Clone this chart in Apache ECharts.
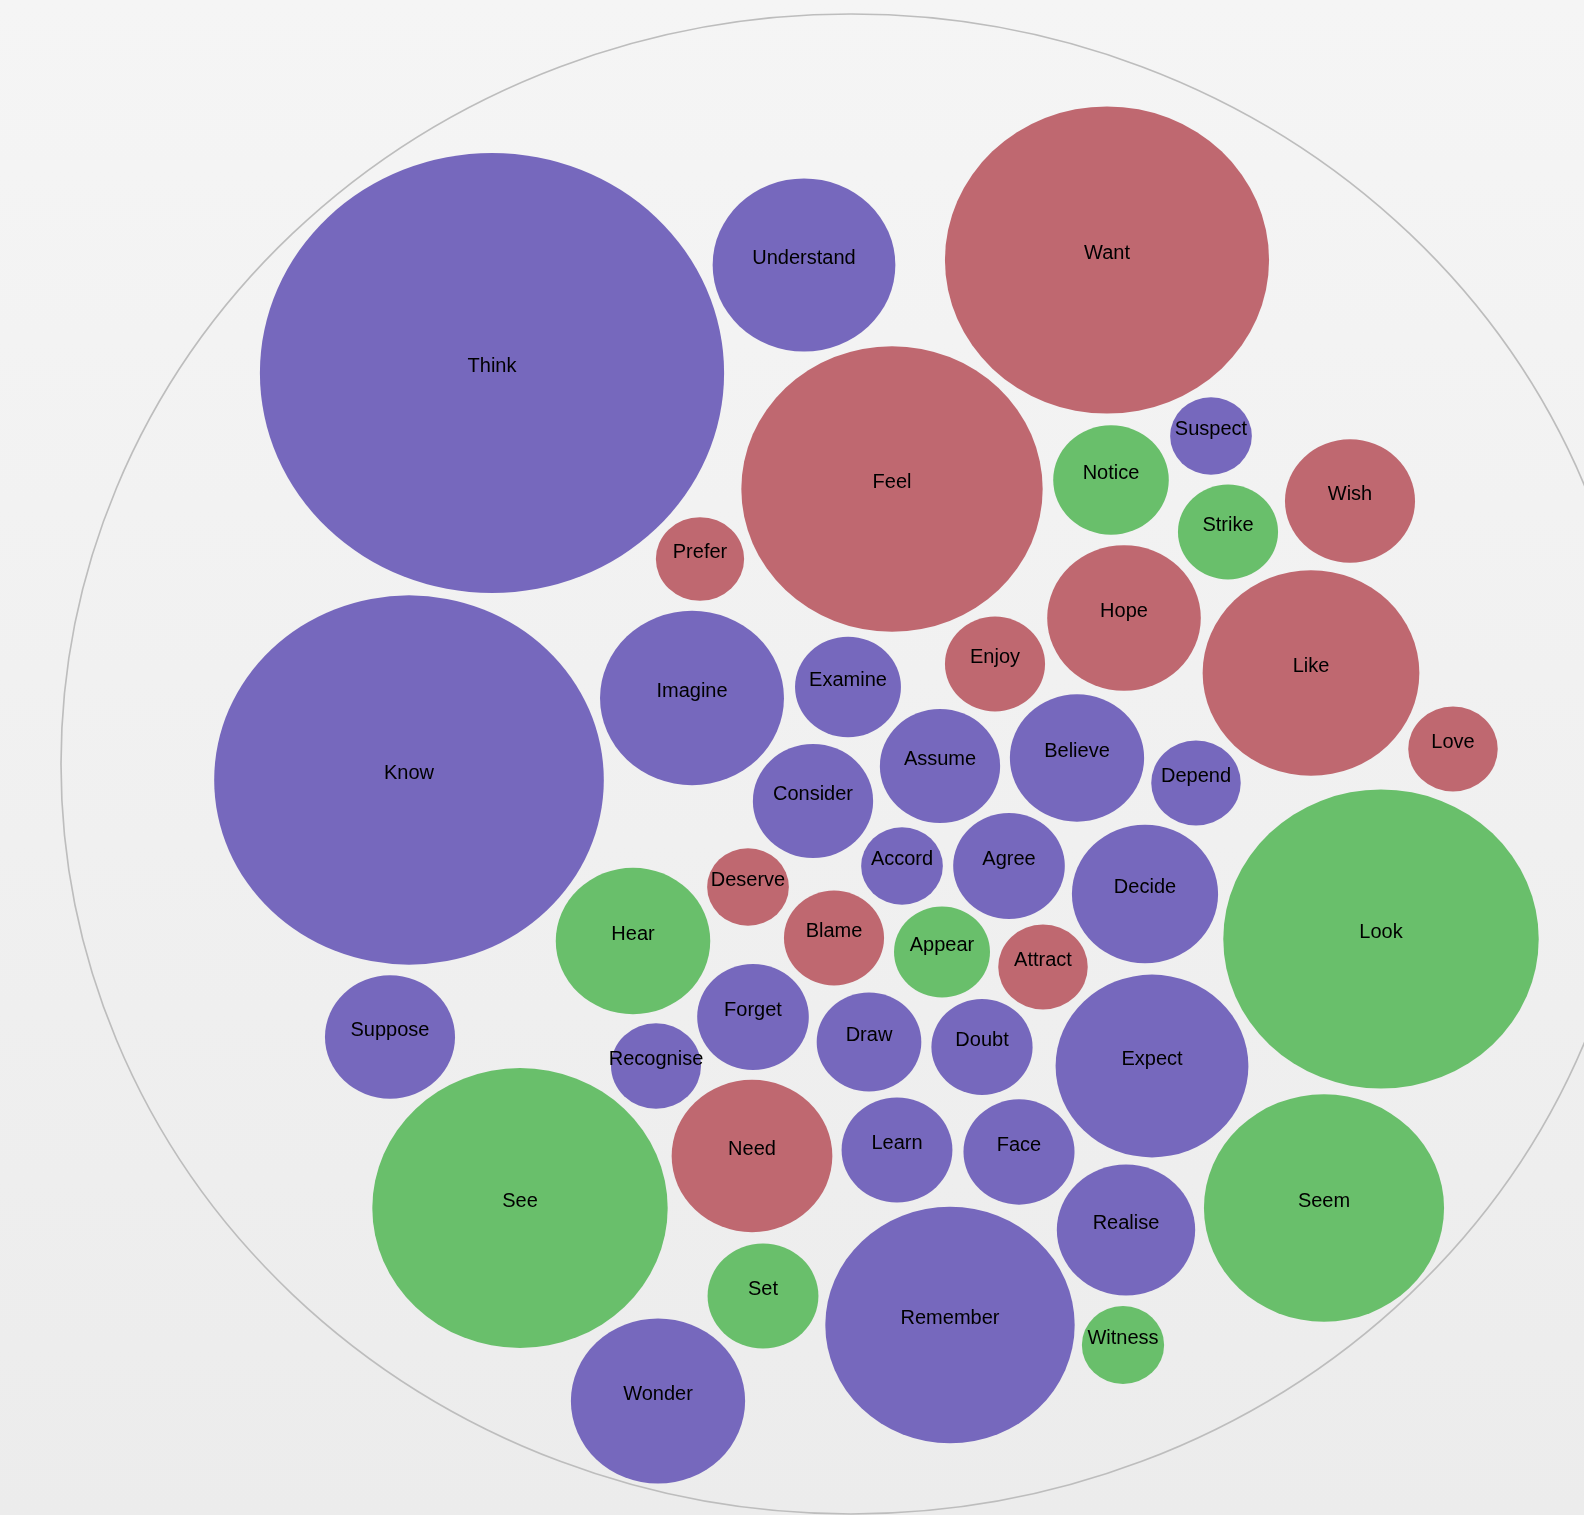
<!DOCTYPE html>
<html>
<head>
<meta charset="utf-8">
<script src="https://cdn.jsdelivr.net/npm/echarts@6/dist/echarts.min.js"></script>
<style>
html,body{margin:0;padding:0;width:1584px;height:1515px;overflow:hidden;}
#chart{width:1584px;height:1515px;}
</style>
</head>
<body>
<div id="chart"></div>
<script>
// Bubble names, group (0 = purple, 1 = red, 2 = green), position and value
const names = ["Think","Understand","Want","Feel","Suspect","Notice","Wish","Strike","Prefer","Hope","Like","Know","Imagine","Examine","Enjoy","Assume","Believe","Depend","Love","Consider","Look","Accord","Agree","Deserve","Decide","Hear","Blame","Appear","Attract","Suppose","Forget","Draw","Doubt","Expect","Recognise","See","Need","Learn","Face","Seem","Realise","Set","Remember","Witness","Wonder"];
const groups = [0,0,1,1,0,2,1,2,1,1,1,0,0,0,1,0,0,0,1,0,2,0,0,1,0,2,1,2,1,0,0,0,0,0,0,2,1,0,0,2,0,2,0,2,0];
const xs = [492,804,1107,892,1211,1111,1350,1228,700,1124,1311,409,692,848,995,940,1077,1196,1453,813,1381,902,1009,748,1145,633,834,942,1043,390,753,869,982,1152,656,520,752,897,1019,1324,1126,763,950,1123,658];
const ys = [373,265,260,489,436,480,501,532,559,618,673,780,698,687,664,766,758,783,749,801,939,866,866,887,894,941,938,952,967,1037,1017,1042,1047,1066,1066,1208,1156,1150,1152,1208,1230,1296,1325,1345,1401];
const values = [484,75,236,204,15,30,38,22.5,17.5,53,105.5,341,76,25.2,22.5,32.5,40.5,18,18,32.5,223.5,15,28,15,48,53.6,22.5,20.7,18,38,28,24.6,23,83.5,18.2,196,58,27.6,27.7,129.5,43,27.6,139.7,15.2,68.2];
const groupColors = ["#7668bd","#bf6870","#69bf6b"];
// enclosing outline: centre and half-axes in the same data space
const outline = [851,764,790,750];

const ASPECT = 1.055;
const data = names.map((n,i)=>({
  name:n,
  value:[xs[i],ys[i],values[i]],
  itemStyle:{color:groupColors[groups[i]],opacity:1}
}));

const chart = echarts.init(document.getElementById('chart'));
chart.setOption({
  backgroundColor:{type:'linear',x:0,y:0,x2:0,y2:1,colorStops:[{offset:0,color:'#f5f5f5'},{offset:1,color:'#ececec'}]},
  animation:false,
  grid:{left:0,right:0,top:0,bottom:0},
  xAxis:{type:'value',min:0,max:1584,show:false},
  yAxis:{type:'value',min:0,max:1515,inverse:true,show:false},
  series:[
    {
      type:'scatter',
      silent:true,
      symbol:'circle',
      data:[[outline[0],outline[1]]],
      symbolSize:[outline[2]*2, outline[3]*2],
      itemStyle:{color:'rgba(0,0,0,0)',borderColor:'#bdbdbd',borderWidth:1.6,opacity:1},
      z:1
    },
    {
      type:'scatter',
      symbol:'circle',
      data:data,
      symbolSize:function(val){
        const ry = 10*Math.sqrt(val[2]);
        return [2*ry*ASPECT, 2*ry];
      },
      itemStyle:{opacity:1},
      label:{
        show:true,
        position:'inside',
        formatter:'{b}',
        offset:[0,-7],
        fontSize:20,
        fontFamily:'"Liberation Sans", Arial, sans-serif',
        color:'#000'
      },
      z:2
    }
  ]
});
</script>
</body>
</html>
